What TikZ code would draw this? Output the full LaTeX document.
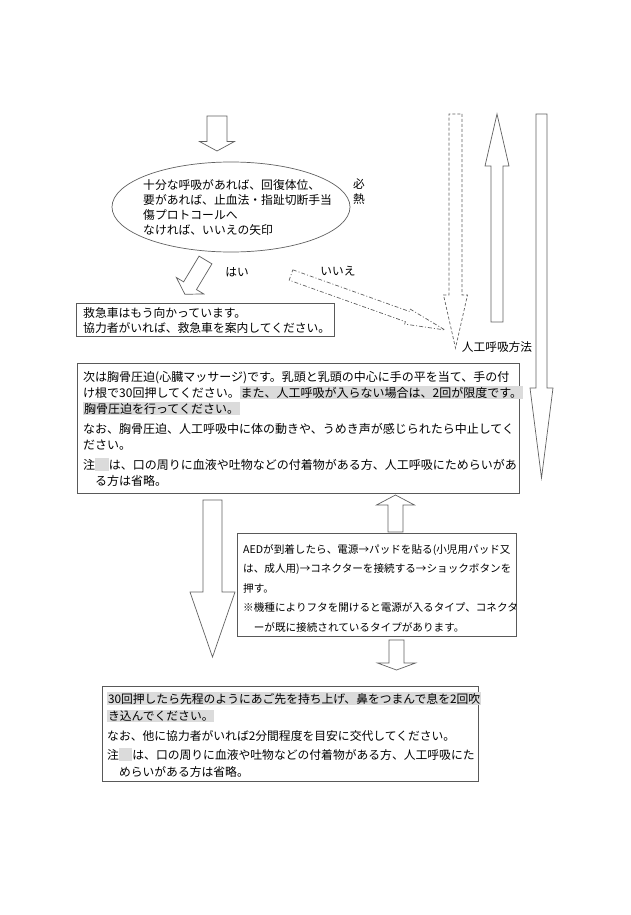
\documentclass[tikz,border=0pt]{standalone}
\usepackage{fontspec}
\setmainfont{Noto Sans CJK JP}
\usepackage{xcolor}
\usetikzlibrary{positioning, shapes.geometric}

\definecolor{linegray}{gray}{0.38}
\definecolor{boxgray}{gray}{0.35}
\definecolor{hlgray}{gray}{0.86}

\newcommand{\hlbox}[1]{{\setlength{\fboxsep}{0.8pt}\colorbox{hlgray}{#1}}}
\newcommand{\rarr}{\makebox[1em]{→}}
% style/x/y/angle/length/body width/head width/head length
\newcommand{\blockarrow}[8]{%
  \draw[#1, shift={(#2,#3)}, rotate=#4]
    (0,-#6/2) -- (#5-#8,-#6/2) -- (#5-#8,-#7/2) -- (#5,0)
    -- (#5-#8,#7/2) -- (#5-#8,#6/2) -- (0,#6/2) -- cycle;}

\begin{document}
\begin{tikzpicture}[
      x=1pt, y=-1pt,
      solidarrow/.style={draw=linegray, line width=0.7pt, fill=white},
      dasharrow/.style={solidarrow, dashed, dash pattern=on 3pt off 2pt},
      dotarrow/.style={solidarrow, dash pattern=on 4pt off 2pt on 1pt off 2pt},
      panel/.style={
         draw=boxgray,
         line width=0.8pt,
         rectangle,
         inner sep=0pt,
         anchor=north west},
      paneltext/.style={
         inner sep=0pt,
         anchor=north west,
         align=left},
      label/.style={inner sep=0pt, font=\fontsize{11.7}{15}\selectfont}
      ]
      \useasboundingbox[fill=white] (0,0) rectangle (630,915);

      % block arrows
      \foreach \sty/\x/\y/\ang/\len/\bw/\hw/\hd in {%
        solidarrow/217/116/-90/35/20/35/9.5,
        solidarrow/205.5/260/-121/40/15/32/10,
        dotarrow/291/275/-19.65/163.5/11/16/40,
        dasharrow/455.5/114/-90/234/13/24/53,
        solidarrow/497/322/90/208/12/24/52,
        solidarrow/541.5/114/-90/364/11/23/90,
        solidarrow/212.5/500/-90/157/19/45/65,
        solidarrow/395.5/532/90/37/15/38/10,
        solidarrow/396.5/640/-90/30/15/38/7
        }
        {\blockarrow{\sty}{\x}{\y}{\ang}{\len}{\bw}{\hw}{\hd}}

      % question
      \node[ellipse, draw=linegray, line width=0.7pt, inner sep=0pt,
            minimum width=238, minimum height=90] (breath) at (231,207) {};
      \node[paneltext, font=\fontsize{11.8}{15}\selectfont] (breathtxt) at (143,179)
        {十分な呼吸があれば、回復体位、\\
         要があれば、止血法・指趾切断手当\\
         傷プロトコールへ\\
         なければ、いいえの矢印};
      \node[label, anchor=north, align=center] (fever) at (359,179) {必\\熱};

      \node[label] (yes) at (237,272) {はい};
      \node[label] (no) at (338,271) {いいえ};
      \node[label] (method) at (497,347) {人工呼吸方法};

      % ambulance
      \node[panel, minimum width=258, minimum height=33] (ambulance) at (76,303) {};
      \node[paneltext, font=\fontsize{11.8}{15}\selectfont] (ambulancetxt) at (83,307)
        {救急車はもう向かっています。\\
         協力者がいれば、救急車を案内してください。};

      % chest compression
      \node[panel, minimum width=442, minimum height=130] (chest) at (77,363) {};
      \node[paneltext, font=\fontsize{12}{16}\selectfont] (chesttxt) at (83,371)
        {次は胸骨圧迫(心臓マッサージ)です。乳頭と乳頭の中心に手の平を当て、手の付\\
         け根で30回押してください。\hlbox{また、人工呼吸が入らない場合は、2回が限度です。}\\
         \hlbox{胸骨圧迫を行ってください。}\\[4pt]
         なお、胸骨圧迫、人工呼吸中に体の動きや、うめき声が感じられたら中止してく\\
         ださい。\\[4pt]
         注\hlbox{\phantom{注}}は、口の周りに血液や吐物などの付着物がある方、人工呼吸にためらいがあ\\
         \hspace{12pt}る方は省略。};

      % AED
      \node[panel, minimum width=279, minimum height=103] (aed) at (237,533) {};
      \node[paneltext, font=\fontsize{10.6}{19.5}\selectfont] (aedtxt) at (243,544)
        {AEDが到着したら、電源\rarr パッドを貼る(小児用パッド又\\
         は、成人用)\rarr コネクターを接続する\rarr ショックボタンを\\
         押す。\\
         ※機種によりフタを開けると電源が入るタイプ、コネクタ\\
         \hspace{10.6pt}ーが既に接続されているタイプがあります。};

      % rescue breaths
      \node[panel, minimum width=376, minimum height=95] (rescue) at (102,686) {};
      \node[paneltext, font=\fontsize{11.8}{17}\selectfont] (rescuetxt) at (107,692)
        {\hlbox{30回押したら先程のようにあご先を持ち上げ、鼻をつまんで息を2回吹}\\
         \hlbox{き込んでください。}\\[3pt]
         なお、他に協力者がいれば2分間程度を目安に交代してください。\\[2pt]
         注\hlbox{\phantom{注}}は、口の周りに血液や吐物などの付着物がある方、人工呼吸にた\\
         \hspace{11.8pt}めらいがある方は省略。};

    \end{tikzpicture}
\end{document}
